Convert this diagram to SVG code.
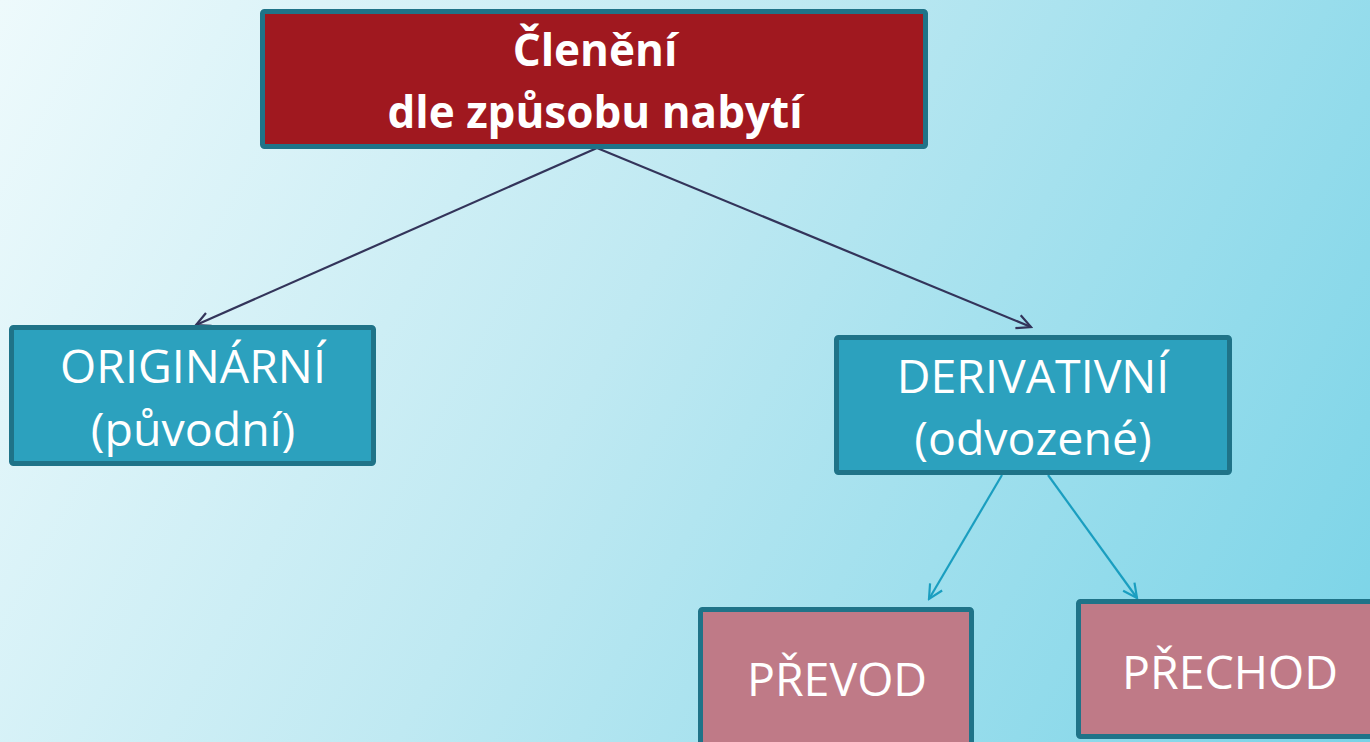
<svg xmlns="http://www.w3.org/2000/svg" width="1370" height="742" viewBox="0 0 1370 742">
<defs>
<linearGradient id="bg" x1="0" y1="0" x2="1370" y2="742" gradientUnits="userSpaceOnUse">
<stop offset="0" stop-color="#eefafc"/>
<stop offset="0.45" stop-color="#bfe9f2"/>
<stop offset="1" stop-color="#78d3e7"/>
</linearGradient>
<marker id="arD" viewBox="0 0 20 20" refX="18" refY="10" markerWidth="20" markerHeight="20" markerUnits="userSpaceOnUse" orient="auto">
<path d="M4,3 L18,10 L4,17" fill="none" stroke="#33345a" stroke-width="2.2"/>
</marker>
<marker id="arB" viewBox="0 0 20 20" refX="18" refY="10" markerWidth="20" markerHeight="20" markerUnits="userSpaceOnUse" orient="auto">
<path d="M4,3 L18,10 L4,17" fill="none" stroke="#1a9ec0" stroke-width="2.2"/>
</marker>
</defs>
<style>
.box{stroke:#1f7388;stroke-width:5}
.red{fill:#a0181f}
.teal{fill:#2ca1be}
.pink{fill:#bf7a87}
.t{font-family:"Open Sans","Noto Sans",sans-serif;fill:#ffffff;text-anchor:middle}
.tb{font-weight:bold;font-size:44px}
.tn{font-size:46.5px}
.cd{stroke:#33345a;stroke-width:2.2;fill:none}
.cb{stroke:#1a9ec0;stroke-width:2.2;fill:none}
</style>
<rect width="1370" height="742" fill="url(#bg)"/>
<g id="connectors">
<line class="cd" x1="597" y1="148" x2="196" y2="325" marker-end="url(#arD)"/>
<line class="cd" x1="597" y1="148" x2="1031" y2="327" marker-end="url(#arD)"/>
<line class="cb" x1="1002" y1="475" x2="929" y2="599" marker-end="url(#arB)"/>
<line class="cb" x1="1048" y1="475" x2="1137" y2="598" marker-end="url(#arB)"/>
</g>
<g id="root">
<rect class="box red" x="262.5" y="11.5" width="663" height="135" rx="2"/>
<text class="t tb" x="595" y="66">Členění</text>
<text class="t tb" x="595" y="128">dle způsobu nabytí</text>
</g>
<g id="originarni">
<rect class="box teal" x="11.5" y="327.5" width="362" height="136" rx="2"/>
<text class="t tn" x="193" y="383">ORIGINÁRNÍ</text>
<text class="t tn" x="193" y="446">(původní)</text>
</g>
<g id="derivativni">
<rect class="box teal" x="836.5" y="337.5" width="393" height="135" rx="2"/>
<text class="t tn" x="1033" y="393">DERIVATIVNÍ</text>
<text class="t tn" x="1033" y="455">(odvozené)</text>
</g>
<g id="prevod">
<rect class="box pink" x="700.5" y="609.5" width="271" height="150" rx="2"/>
<text class="t tn" x="837" y="696">PŘEVOD</text>
</g>
<g id="prechod">
<rect class="box pink" x="1078.5" y="601.5" width="310" height="135" rx="2"/>
<text class="t tn" x="1230" y="689">PŘECHOD</text>
</g>
</svg>
